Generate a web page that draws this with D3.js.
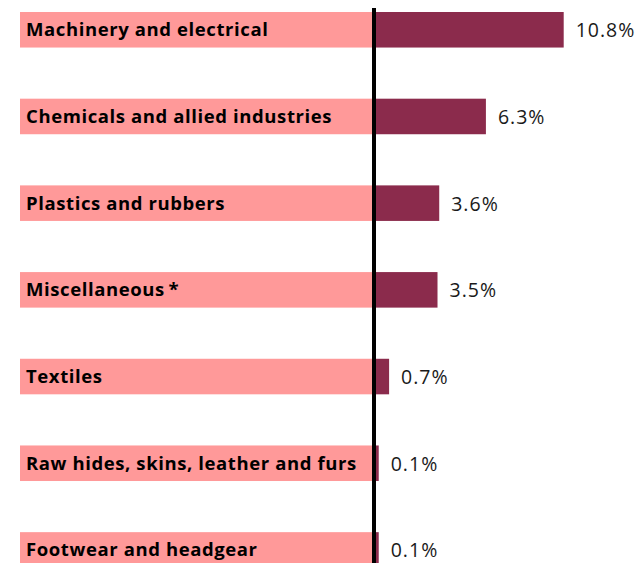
<!DOCTYPE html>
<html>
<head>
<meta charset="utf-8">
<script src="https://cdn.jsdelivr.net/npm/d3@7"></script>
<style>
  body { margin: 0; background: #fff; }
  .cat-label { font-family: 'Open Sans', sans-serif; font-weight: bold; fill: #000; }
  .val-label { font-family: 'Open Sans', sans-serif; fill: #1a1a1a; }
</style>
</head>
<body>
<div id="chart"></div>
<script>
// categories and growth values (%)
const categories = [
    'Machinery and electrical',
    'Chemicals and allied industries',
    'Plastics and rubbers',
    'Miscellaneous\u2009*',
    'Textiles',
    'Raw hides, skins, leather and furs',
    'Footwear and headgear'
];
const values = [10.8, 6.3, 3.6, 3.5, 0.7, 0.1, 0.1];
const valueLabels = ['10.8%', '6.3%', '3.6%', '3.5%', '0.7%', '0.1%', '0.1%'];

const config = {
    width: 642,
    height: 563,
    labelLeft: 20,
    axisX: 374,
    colors: { label: '#ff9999', bar: '#8b2b4c', axis: '#000' }
};

const data = categories.map((c, i) => ({ cat: c, value: values[i], label: valueLabels[i] }));

const svg = d3.select('#chart')
    .append('svg')
    .attr('width', config.width)
    .attr('height', config.height);

let xScale = d3.scaleLinear()
    .domain([0, 10.8])
    .range([377, 563.7]);

let yScale = d3.scaleBand()
    .domain(categories)
    .range([12, 567.7])
    .paddingInner(0.59)
    .paddingOuter(0);

// pink label boxes on the left of the axis
svg.selectAll('.label-box')
    .data(data)
    .enter()
    .append('rect')
    .attr('class', 'label-box')
    .attr('x', config.labelLeft)
    .attr('y', d => yScale(d.cat))
    .attr('width', config.axisX - 2 - config.labelLeft)
    .attr('height', yScale.bandwidth())
    .style('fill', config.colors.label);

svg.selectAll('.cat-label')
    .data(data)
    .enter()
    .append('text')
    .attr('class', 'cat-label')
    .attr('x', 26)
    .attr('y', d => yScale(d.cat) + yScale.bandwidth() / 2 + 6.5)
    .style('font-size', '18.5px')
    .style('letter-spacing', '0.6px')
    .text(d => d.cat);

// value bars
svg.selectAll('.bar')
    .data(data)
    .enter()
    .append('rect')
    .attr('class', 'bar')
    .attr('x', xScale(0) - 5)
    .attr('y', d => yScale(d.cat))
    .attr('width', d => xScale(d.value) - xScale(0) + 5)
    .attr('height', yScale.bandwidth())
    .style('fill', config.colors.bar);

svg.selectAll('.val-label')
    .data(data)
    .enter()
    .append('text')
    .attr('class', 'val-label')
    .attr('x', d => xScale(d.value) + 12)
    .attr('y', d => yScale(d.cat) + yScale.bandwidth() / 2 + 7.5)
    .style('font-size', '19.5px')
    .style('letter-spacing', '1px')
    .text(d => d.label);

// vertical zero line
svg.append('line')
    .attr('x1', config.axisX)
    .attr('x2', config.axisX)
    .attr('y1', 8)
    .attr('y2', config.height)
    .style('stroke', config.colors.axis)
    .style('stroke-width', 4);
</script>
</body>
</html>
